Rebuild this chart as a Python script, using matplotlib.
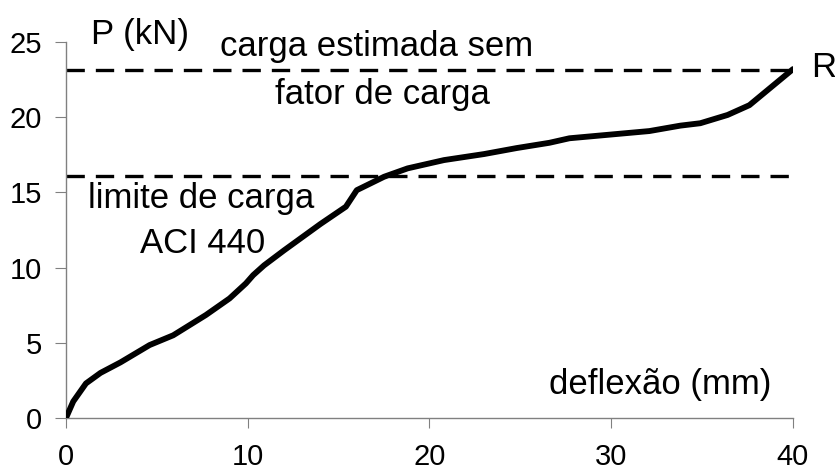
import matplotlib.pyplot as plt

plt.rcParams['font.family'] = ['Liberation Sans', 'DejaVu Sans']

# curva carga x deflexão
deflexao = [0, 0.4, 1.1, 1.9, 3.0, 4.6, 5.9, 7.7, 9.0, 9.9, 10.3, 10.9, 12.0,
            14.0, 15.4, 16.0, 17.5, 18.8, 20.8, 23.0, 24.8, 26.6, 27.7, 32.1,
            33.8, 34.9, 36.4, 37.6, 38.4, 40.0]
carga = [0, 1.1, 2.3, 3.0, 3.7, 4.85, 5.5, 6.85, 7.95, 8.95, 9.5, 10.15, 11.15,
         12.9, 14.05, 15.15, 16.04, 16.6, 17.15, 17.55, 17.95, 18.3, 18.6, 19.08,
         19.44, 19.6, 20.15, 20.8, 21.6, 23.2]

carga_estimada = 23.15
limite_aci = 16.1

fig = plt.figure(figsize=(8.35, 4.7), dpi=100)
ax = fig.add_axes([0.079, 0.1106, 0.8707, 0.8])

ax.plot(deflexao, carga, color='black', lw=4.2, solid_capstyle='round',
        solid_joinstyle='round', zorder=3)
ax.plot([0, 40], [carga_estimada, carga_estimada], color='black', lw=2.4,
        dashes=(5.5, 3.3))
ax.plot([0, 40], [limite_aci, limite_aci], color='black', lw=2.4,
        dashes=(5.5, 3.3))

ax.set_xlim(0, 40)
ax.set_ylim(0, 25)
ax.set_xticks([0, 10, 20, 30, 40])
ax.set_yticks([0, 5, 10, 15, 20, 25])

for s in ['top', 'right']:
    ax.spines[s].set_visible(False)
for s in ['left', 'bottom']:
    ax.spines[s].set_color('#808080')
    ax.spines[s].set_linewidth(1)

ax.tick_params(axis='x', length=7, color='#808080', labelsize=21, pad=11)
ax.tick_params(axis='y', length=8, color='#808080', labelsize=21, pad=9)

fs = 25
ax.text(1.4, 25.5, 'P (kN)', fontsize=fs, va='center', clip_on=False)
ax.text(8.5, 24.7, 'carga estimada sem', fontsize=fs, va='center')
ax.text(11.5, 21.5, 'fator de carga', fontsize=fs, va='center')
ax.text(1.2, 14.6, 'limite de carga', fontsize=fs, va='center')
ax.text(4.1, 11.6, 'ACI 440', fontsize=fs, va='center')
ax.text(26.6, 2.2, 'deflexão (mm)', fontsize=fs, va='center')
ax.text(41.0, 23.3, 'R', fontsize=fs, va='center', clip_on=False)

fig.savefig('out.png', dpi=100)
